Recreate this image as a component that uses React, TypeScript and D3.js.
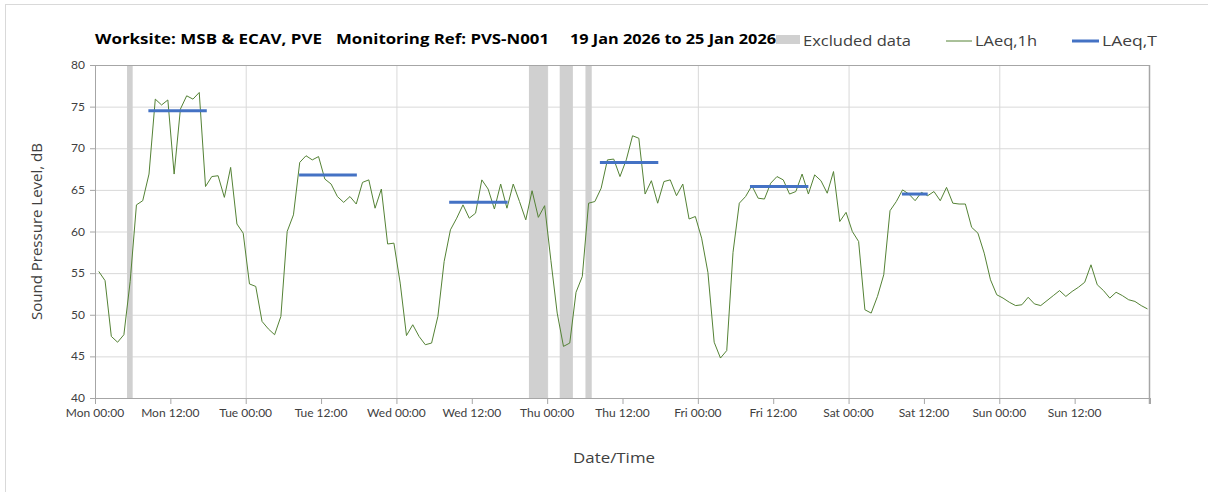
import React from 'react';
import * as d3 from 'd3';

// hourly LAeq,1h readings, Mon 00:xx .. Sun 23:xx
const laeq1h = [
  55.2, 54.1, 47.4, 46.7, 47.6, 54.0, 63.2, 63.7, 66.9, 75.9, 75.2, 75.8,
  66.9, 74.7, 76.3, 75.9, 76.7, 65.4, 66.6, 66.7, 64.1, 67.7, 60.9, 59.8,
  53.7, 53.4, 49.2, 48.3, 47.6, 49.8, 60.0, 62.0, 68.3, 69.1, 68.6, 69.0,
  66.3, 65.7, 64.2, 63.5, 64.2, 63.3, 65.9, 66.2, 62.8, 65.1, 58.5, 58.6,
  53.8, 47.5, 48.8, 47.4, 46.4, 46.6, 49.8, 56.4, 60.2, 61.6, 63.2, 61.6,
  62.2, 66.2, 65.1, 62.7, 65.7, 62.8, 65.7, 63.6, 61.4, 64.9, 61.7, 63.1,
  56.5, 50.2, 46.2, 46.6, 52.7, 54.6, 63.4, 63.6, 65.2, 68.6, 68.7, 66.6,
  68.6, 71.5, 71.2, 64.5, 66.1, 63.4, 66.0, 66.2, 64.3, 65.7, 61.5, 61.8,
  59.2, 55.1, 46.7, 44.8, 45.7, 57.5, 63.4, 64.2, 65.5, 64.0, 63.9, 65.8,
  66.6, 66.2, 64.5, 64.8, 66.9, 64.5, 66.8, 66.1, 64.6, 67.2, 61.2, 62.3,
  60.0, 58.8, 50.6, 50.2, 52.2, 54.8, 62.5, 63.6, 65.0, 64.5, 63.7, 64.7,
  64.3, 64.8, 63.7, 65.3, 63.4, 63.3, 63.3, 60.5, 59.8, 57.4, 54.2, 52.4,
  52.0, 51.5, 51.1, 51.2, 52.1, 51.3, 51.1, 51.7, 52.3, 52.9, 52.2, 52.8,
  53.3, 53.9, 56.0, 53.6, 52.9, 52.0, 52.7, 52.3, 51.8, 51.6, 51.1, 50.7,
];
const firstHour = 0.6; // hours after Mon 00:00 of the first reading

// LAeq,T over each working period (hours from Mon 00:00)
const periodStart = [8.5, 32.5, 56.4, 80.4, 104.3, 128.5];
const periodEnd = [17.8, 41.7, 65.7, 89.7, 113.6, 132.6];
const periodLevel = [74.5, 66.8, 63.5, 68.3, 65.4, 64.5];

// excluded data windows (hours from Mon 00:00)
const excludedStart = [5.1, 69.1, 74.0, 78.1];
const excludedEnd = [6.0, 72.1, 76.1, 79.1];

const days = ['Mon', 'Tue', 'Wed', 'Thu', 'Fri', 'Sat', 'Sun'];
const yTicks = [40, 45, 50, 55, 60, 65, 70, 75, 80];

const W = 1208;
const H = 492;
const M = { left: 95, right: 58, top: 65, bottom: 94 };
const FONT = 'Lato, "Open Sans", sans-serif';
const TFONT = '"Open Sans", Lato, sans-serif';

export default function App() {
  const x = d3.scaleLinear().domain([0, 168]).range([M.left, W - M.right]);
  const y = d3.scaleLinear().domain([40, 80]).range([H - M.bottom, M.top]);

  const line = d3
    .line<number>()
    .x((_, i) => x(firstHour + i))
    .y((d) => y(d));

  const xTicks = d3.range(0, 169, 12);
  const dayLines = d3.range(24, 168, 24);
  const x0 = x(0);
  const x1 = x(168);
  const yb = y(40);
  const yt = y(80);
  const axisCol = '#a6a6a6';
  const gridCol = '#d9d9d9';
  const textCol = '#404040';

  return (
    <svg width={W} height={H} style={{ display: 'block', position: 'absolute', left: 0, top: 0, fontFamily: FONT }}>
      <rect x={0} y={0} width={W} height={H} fill="#fff" />
      <rect x={5.5} y={4.5} width={W + 10} height={H + 10} fill="none" stroke={gridCol} />

      {/* title */}
      <g fontWeight={700} fontSize={14} fill="#000" fontFamily={TFONT}>
        <text x={95} y={44} textLength={227} lengthAdjust="spacingAndGlyphs">Worksite: MSB &amp; ECAV, PVE</text>
        <text x={336} y={44} textLength={213} lengthAdjust="spacingAndGlyphs">Monitoring Ref: PVS-N001</text>
        <text x={570} y={44} textLength={206} lengthAdjust="spacingAndGlyphs">19 Jan 2026 to 25 Jan 2026</text>
      </g>

      {/* legend */}
      <g fontSize={15} fill={textCol} fontFamily={TFONT}>
        <rect x={776} y={35} width={24} height={9} fill="#d0d0d0" />
        <text x={803} y={46} textLength={108} lengthAdjust="spacingAndGlyphs">Excluded data</text>
        <line x1={946} x2={972} y1={41} y2={41} stroke="#548235" strokeWidth={1} />
        <text x={975} y={46} textLength={62} lengthAdjust="spacingAndGlyphs">LAeq,1h</text>
        <line x1={1072} x2={1099} y1={41} y2={41} stroke="#4472c4" strokeWidth={3} />
        <text x={1102} y={46} textLength={55} lengthAdjust="spacingAndGlyphs">LAeq,T</text>
      </g>

      {/* horizontal grid */}
      {yTicks.map((t) => (
        <line key={'gy' + t} x1={x0} x2={x1} y1={y(t) + 0.5} y2={y(t) + 0.5} stroke={gridCol} />
      ))}
      {/* vertical grid at midnight */}
      {dayLines.map((t) => (
        <line key={'gx' + t} x1={x(t) + 0.5} x2={x(t) + 0.5} y1={yt} y2={yb} stroke={gridCol} />
      ))}

      {/* excluded windows */}
      {excludedStart.map((s, i) => (
        <rect key={'ex' + i} x={x(s)} y={yt} width={x(excludedEnd[i]) - x(s)} height={yb - yt} fill="#d0d0d0" />
      ))}

      {/* plot border */}
      <line x1={x0} x2={x1} y1={yt + 0.5} y2={yt + 0.5} stroke={axisCol} />
      <line x1={x1 - 0.5} x2={x1 - 0.5} y1={yt} y2={yb + 6} stroke={axisCol} strokeWidth={1.5} />
      <line x1={x0 + 0.5} x2={x0 + 0.5} y1={yt} y2={yb} stroke={axisCol} />
      <line x1={x0} x2={x1} y1={yb + 0.5} y2={yb + 0.5} stroke={axisCol} />

      {/* y ticks */}
      {yTicks.map((t) => (
        <g key={'yt' + t}>
          <line x1={x0 - 5} x2={x0} y1={y(t) + 0.5} y2={y(t) + 0.5} stroke={axisCol} />
          <text x={x0 - 10} y={y(t) + 4} textAnchor="end" fontSize={12} fill={textCol}>{t}</text>
        </g>
      ))}

      {/* x ticks */}
      {xTicks.map((t) => (
        <g key={'xt' + t}>
          <line x1={x(t) + 0.5} x2={x(t) + 0.5} y1={yb} y2={yb + 6} stroke={axisCol} />
          {t < 168 && (
            <text x={x(t)} y={yb + 19} textAnchor="middle" fontSize={12} fill={textCol}>
              {days[Math.floor(t / 24)] + (t % 24 === 0 ? ' 00:00' : ' 12:00')}
            </text>
          )}
        </g>
      ))}

      {/* LAeq,1h */}
      <path d={line(laeq1h) || ''} fill="none" stroke="#548235" strokeWidth={1} strokeLinejoin="round" />

      {/* LAeq,T */}
      {periodStart.map((s, i) => (
        <line key={'lt' + i} x1={x(s)} x2={x(periodEnd[i])} y1={y(periodLevel[i])} y2={y(periodLevel[i])} stroke="#4472c4" strokeWidth={3} />
      ))}

      {/* axis titles */}
      <text transform={`translate(42,${(yt + yb) / 2}) rotate(-90)`} textAnchor="middle" fontSize={15} fill={textCol} fontFamily={TFONT} textLength={177} lengthAdjust="spacingAndGlyphs">
        Sound Pressure Level, dB
      </text>
      <text x={573} y={463} fontSize={15} fill={textCol} fontFamily={TFONT} textLength={82} lengthAdjust="spacingAndGlyphs">
        Date/Time
      </text>
    </svg>
  );
}
